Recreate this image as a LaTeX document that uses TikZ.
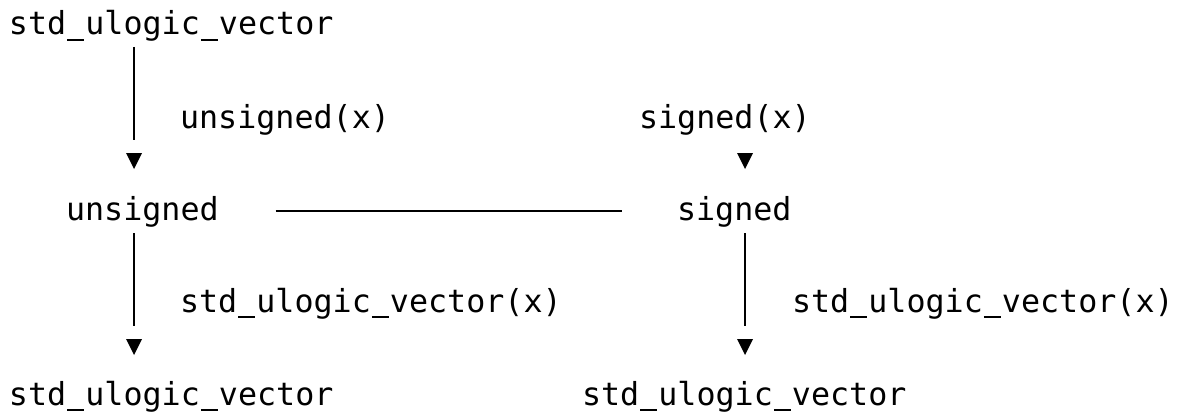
\documentclass[tikz,border=0pt]{standalone}
\usepackage{fontspec}
\newfontfamily\codefont{DejaVu Sans Mono}
\usetikzlibrary{calc}
% underscore as a solid bar occupying one mono cell
\newcommand\uscore{\makebox[0.6021em][c]{\rule[-0.19em]{0.54em}{0.065em}}}
\tikzset{
  code/.style={anchor=base west, inner sep=0pt, outer sep=0pt,
    font=\codefont\fontsize{31.7pt}{38pt}\selectfont},
  conn/.style={draw=black, line width=2.2pt},
  tip/.pic={\fill[black] (-8,-8) -- (8,-8) -- (0,8) -- cycle;}
}
\begin{document}
\begin{tikzpicture}[x=1pt,y=-1pt]
  \useasboundingbox (0,0) rectangle (1181,412);

  % type names
  \node[code] (topv) at (9,35)    {std\uscore ulogic\uscore vector};
  \node[code] (uns)  at (66,220)  {unsigned};
  \node[code] (sig)  at (677,220) {signed};
  \node[code] (botl) at (9,405)   {std\uscore ulogic\uscore vector};
  \node[code] (botr) at (582,405) {std\uscore ulogic\uscore vector};

  % conversion labels
  \node[code] (lu)  at (180,128.5) {unsigned(x)};
  \node[code] (ls)  at (639,128.5) {signed(x)};
  \node[code] (lvl) at (180,312)   {std\uscore ulogic\uscore vector(x)};
  \node[code] (lvr) at (792,312)   {std\uscore ulogic\uscore vector(x)};

  % arrow heads
  \coordinate (ta) at (134,161);
  \coordinate (tb) at (745,161);
  \coordinate (tc) at (134,347);
  \coordinate (td) at (745,347);
  \foreach \t in {ta,tb,tc,td} \pic at (\t) {tip};

  % connectors
  \draw[conn] ($(ta |- topv.base)+(0,12)$) -- ($(ta)+(0,-21)$);
  \draw[conn] ($(tc |- uns.base)+(0,13)$) -- ($(tc)+(0,-21)$);
  \draw[conn] ($(td |- sig.base)+(0,13)$) -- ($(td)+(0,-21)$);
  \draw[line width=2pt] ($(uns.base east)+(57,-9.5)$) -- ($(sig.base west)+(-55,-9.5)$);
\end{tikzpicture}
\end{document}
